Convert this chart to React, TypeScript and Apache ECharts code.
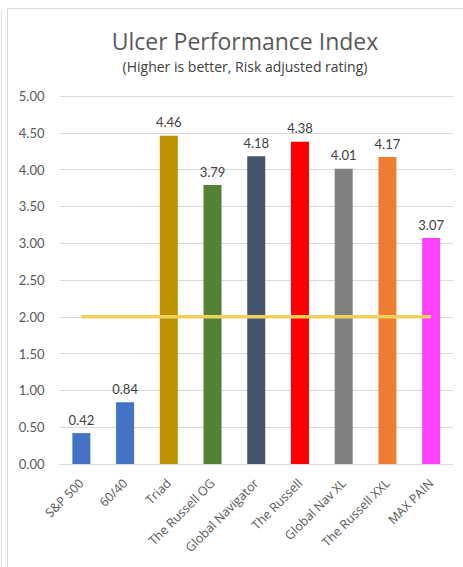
import React, { useEffect, useRef } from "react";
import * as echarts from "echarts";

const categories = ["S&P 500", "60/40", "Triad", "The Russell OG", "Global Navigator", "The Russell", "Global Nav XL", "The Russell XXL", "MAX PAIN"];
const values = [0.42, 0.84, 4.46, 3.79, 4.18, 4.38, 4.01, 4.17, 3.07];
const barColors = ["#4472C4", "#4472C4", "#BF9000", "#548235", "#44546A", "#FF0000", "#808080", "#ED7D31", "#FF40FF"];
const referenceLine = [2, 2, 2, 2, 2, 2, 2, 2, 2];

const FONT = "Lato, 'Open Sans', sans-serif";
const FONT2 = "'Open Sans', sans-serif";

export default function App() {
  const ref = useRef<HTMLDivElement>(null);
  useEffect(() => {
    document.body.style.margin = "0";
    const chart = echarts.init(ref.current!, null, { renderer: "svg" });
    chart.setOption({
      animation: false,
      backgroundColor: "#ffffff",
      title: {
        text: "Ulcer Performance Index",
        subtext: "(Higher is better, Risk adjusted rating)",
        left: 240,
        textAlign: "center",
        top: 24,
        itemGap: 7,
        textStyle: { fontFamily: FONT2, fontSize: 23, fontWeight: "normal", color: "#595959" },
        subtextStyle: { fontFamily: FONT2, fontSize: 14, color: "#404040" },
      },
      graphic: [
        { type: "rect", shape: { x: 7.5, y: 8.5, width: 470, height: 580 }, style: { fill: "none", stroke: "#d9d9d9", lineWidth: 1 } },
        { type: "line", shape: { x1: 1.5, y1: 10, x2: 1.5, y2: 567 }, style: { stroke: "#e0e0e0", lineWidth: 1 } },
      ],
      grid: { left: 59.5, right: 10, top: 96, bottom: 103 },
      xAxis: {
        type: "category",
        data: categories,
        axisLine: { lineStyle: { color: "#d9d9d9" } },
        axisTick: { show: false },
        axisLabel: { rotate: 45, interval: 0, fontFamily: FONT2, fontSize: 12.5, color: "#595959", margin: 17 },
      },
      yAxis: {
        type: "value",
        min: 0,
        max: 5,
        interval: 0.5,
        axisLine: { show: false },
        axisTick: { show: false },
        splitLine: { lineStyle: { color: "#d9d9d9" } },
        axisLabel: { formatter: (v: number) => v.toFixed(2), fontFamily: FONT, fontSize: 13, color: "#595959", margin: 15 },
      },
      series: [
        {
          type: "bar",
          data: values.map((v, i) => ({ value: v, itemStyle: { color: barColors[i] } })),
          barWidth: 18,
          label: {
            show: true,
            position: "top",
            distance: 7,
            formatter: (p: any) => p.value.toFixed(2),
            fontFamily: FONT,
            fontSize: 13,
            color: "#404040",
          },
        },
        {
          type: "line",
          data: referenceLine,
          symbol: "none",
          silent: true,
          lineStyle: { color: "#EFD05A", width: 3.5 },
          z: 5,
        },
      ],
    });
    return () => chart.dispose();
  }, []);
  return <div ref={ref} style={{ width: 463, height: 567 }} />;
}
